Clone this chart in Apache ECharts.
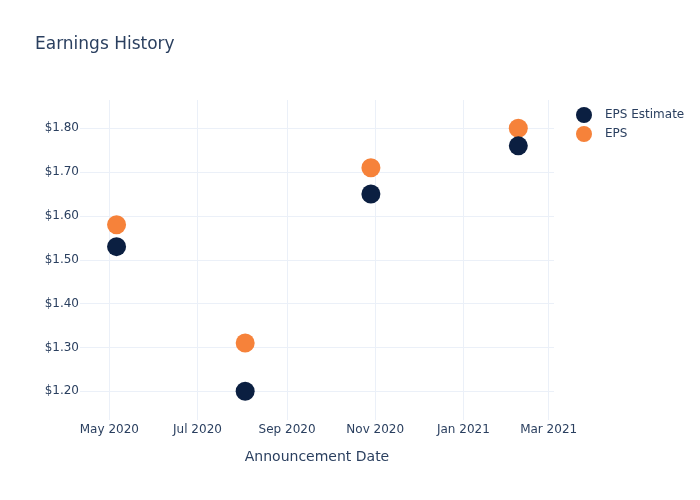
<!DOCTYPE html>
<html>
<head>
<meta charset="utf-8">
<script src="https://cdn.jsdelivr.net/npm/echarts@6/dist/echarts.min.js"></script>
<style>html,body{margin:0;padding:0;background:#fff}#c{width:700px;height:500px}</style>
</head>
<body>
<div id="c"></div>
<script>
const dates = ['2020-05-06', '2020-08-03', '2020-10-29', '2021-02-08'];
const epsEstimate = [1.53, 1.20, 1.65, 1.76];
const eps = [1.58, 1.31, 1.71, 1.80];
const yTicks = [1.2, 1.3, 1.4, 1.5, 1.6, 1.7, 1.8];
const xTicks = ['2020-05-01', '2020-07-01', '2020-09-01', '2020-11-01', '2021-01-01', '2021-03-01'];
const monthNames = ['Jan','Feb','Mar','Apr','May','Jun','Jul','Aug','Sep','Oct','Nov','Dec'];

const ts = s => { const [y,m,d] = s.split('-').map(Number); return Date.UTC(y, m-1, d); };
const xMin = ts('2020-04-10') + 0.7*86400000;
const xMax = ts('2021-03-04') + 0.7*86400000;
const font = 'DejaVu Sans, Verdana, sans-serif';
const txt = '#2a3f5f';
const grid = '#ebf0f8';

const chart = echarts.init(document.getElementById('c'), null, {renderer: 'canvas'});
chart.setOption({
  animation: false,
  backgroundColor: '#fff',
  title: {
    text: 'Earnings History', left: 30, top: 31,
    textStyle: {fontFamily: font, fontSize: 17, fontWeight: 'normal', color: txt}
  },
  legend: {
    data: ['EPS Estimate', 'EPS'],
    orient: 'vertical', left: 571, top: 102,
    icon: 'circle', itemWidth: 16, itemHeight: 16, itemGap: 3,
    textStyle: {fontFamily: font, fontSize: 12, color: txt, padding: [0, 0, 0, 8]}
  },
  grid: {left: 80, right: 146, top: 100, bottom: 80, containLabel: false},
  xAxis: {
    type: 'value', min: xMin, max: xMax,
    name: 'Announcement Date', nameLocation: 'middle', nameGap: 30,
    nameTextStyle: {fontFamily: font, fontSize: 14, color: txt},
    axisLine: {show: false},
    axisTick: {show: false, customValues: xTicks.map(ts)},
    axisLabel: {
      customValues: xTicks.map(ts), margin: 4,
      fontFamily: font, fontSize: 12, color: txt,
      formatter: v => { const d = new Date(v); return monthNames[d.getUTCMonth()] + ' ' + d.getUTCFullYear(); }
    },
    splitLine: {show: true, lineStyle: {color: grid, width: 1}}
  },
  yAxis: {
    type: 'value', min: 1.1345, max: 1.8646,
    axisLine: {show: false},
    axisTick: {show: false, customValues: yTicks},
    axisLabel: {
      customValues: yTicks, margin: 1, padding: [2, 0, 0, 0],
      fontFamily: font, fontSize: 12, color: txt,
      formatter: v => '$' + v.toFixed(2)
    },
    splitLine: {show: true, lineStyle: {color: grid, width: 1}}
  },
  series: [
    {
      name: 'EPS', type: 'scatter', symbolSize: 19,
      itemStyle: {color: '#f6823a', opacity: 1},
      data: dates.map((d, i) => [ts(d), eps[i]])
    },
    {
      name: 'EPS Estimate', type: 'scatter', symbolSize: 19,
      itemStyle: {color: '#0b1f41', opacity: 1},
      data: dates.map((d, i) => [ts(d), epsEstimate[i]])
    }
  ]
});
</script>
</body>
</html>
